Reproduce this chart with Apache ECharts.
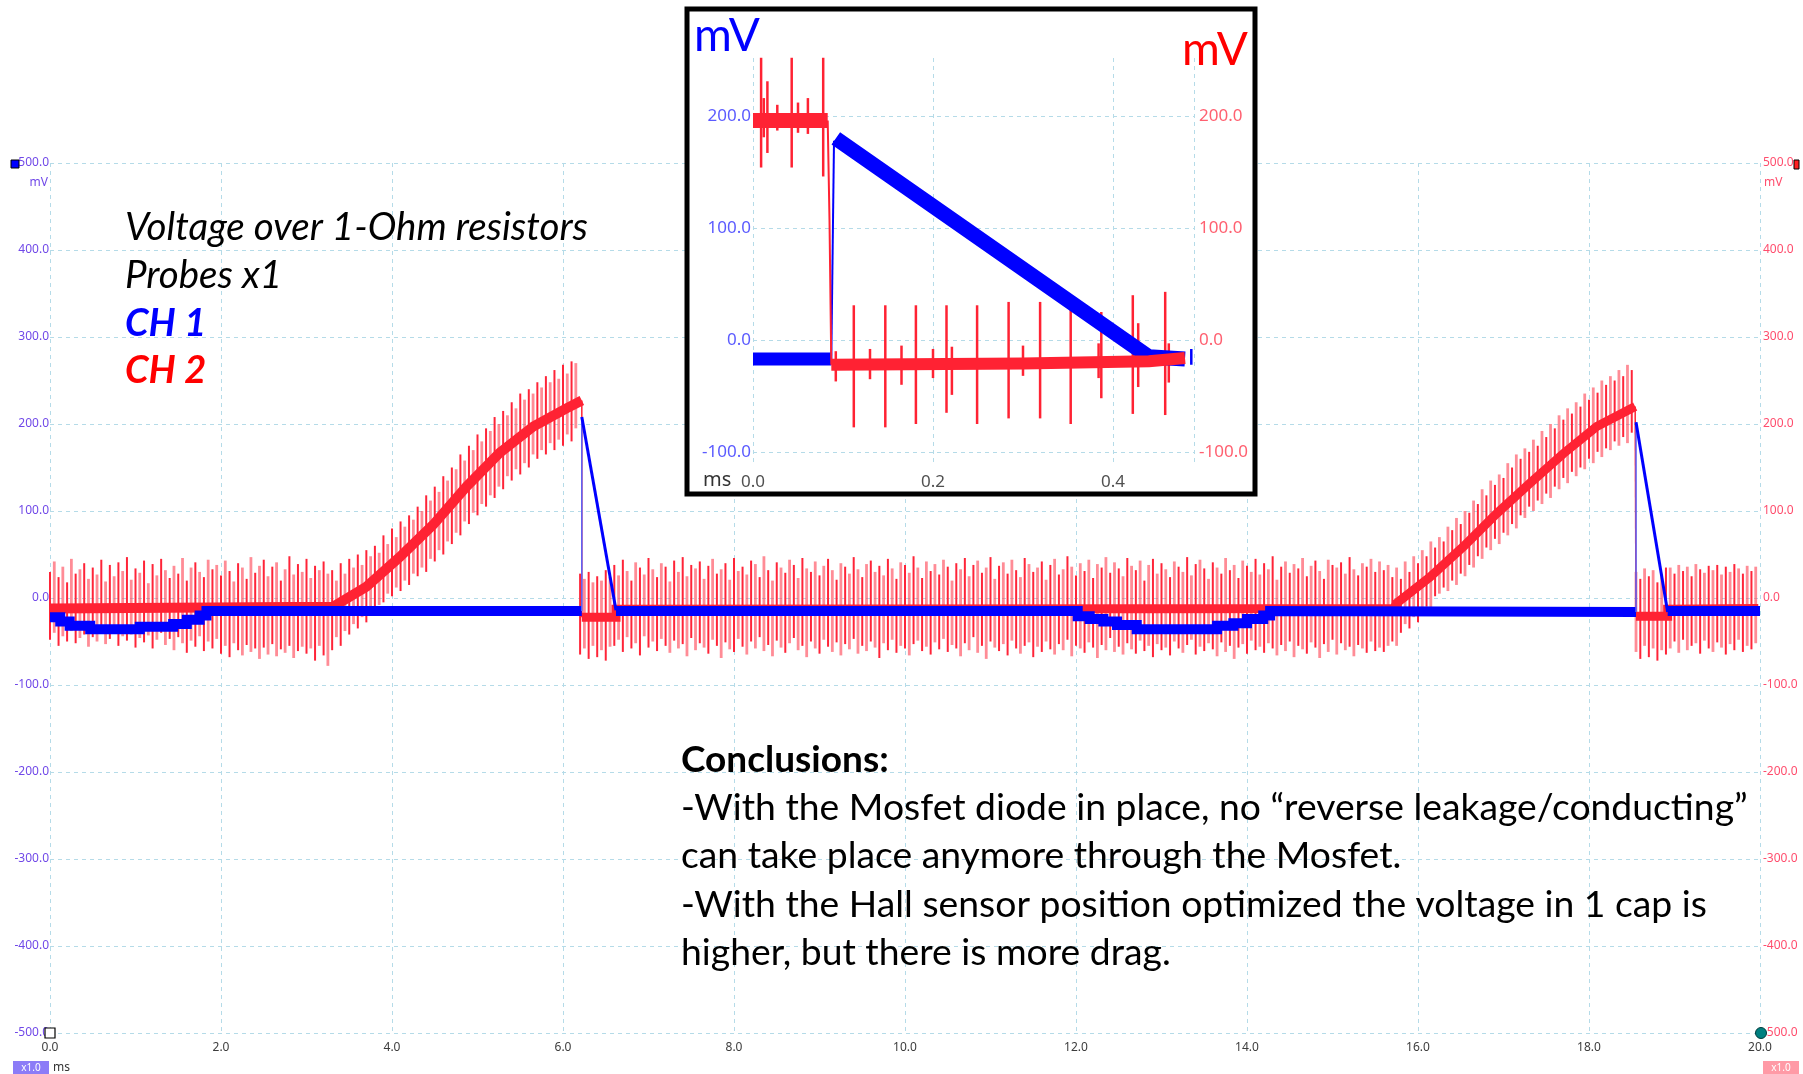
<!DOCTYPE html>
<html>
<head>
<meta charset="utf-8">
<title>Voltage over 1-Ohm resistors</title>
<script src="https://cdn.jsdelivr.net/npm/echarts@6/dist/echarts.min.js"></script>
<style>
  html, body { margin: 0; padding: 0; background: #ffffff; }
  #chart { width: 1803px; height: 1074px; }
</style>
</head>
<body>
<div id="chart"></div>
<script>
// ---- main scope trace, CH1 (blue), [ms, mV] ----
const CH1_BAND_1 = [[0, -22], [0.12, -22], [0.12, -27], [0.23, -27], [0.23, -32], [0.47, -32], [0.47, -36],
  [1.05, -36], [1.05, -33], [1.44, -33], [1.44, -30], [1.6, -30], [1.6, -25], [1.75, -25], [1.75, -20],
  [1.83, -20], [1.83, -15], [6.22, -15]];
const CH1_JUMP_1 = [[6.22, -15], [6.22, 208]];
const CH1_DECAY_1 = [[6.22, 208], [6.62, -14]];
const CH1_BAND_2 = [[6.62, -15], [12.02, -15], [12.02, -21], [12.16, -21], [12.16, -24], [12.32, -24],
  [12.32, -27], [12.48, -27], [12.48, -31], [12.71, -31], [12.71, -36], [13.65, -36], [13.65, -32],
  [13.84, -32], [13.84, -29], [14.0, -29], [14.0, -24], [14.19, -24], [14.19, -20], [14.27, -20],
  [14.27, -15], [18.55, -16]];
const CH1_JUMP_2 = [[18.55, -16], [18.55, 202]];
const CH1_DECAY_2 = [[18.55, 202], [18.92, -16]];
const CH1_BAND_3 = [[18.92, -15], [20, -15]];

// ---- main scope trace, CH2 (red), [ms, mV] ----
const CH2_BAND_1 = [[0, -12], [3.31, -10], [3.7, 13], [4.09, 47], [4.48, 84], [4.87, 128], [5.26, 167],
  [5.65, 197], [6.04, 218], [6.22, 227]];
const CH2_DROP_1 = [[6.22, 227], [6.22, -22]];
const CH2_BAND_2 = [[6.22, -22], [6.62, -22], [6.62, -13], [15.72, -12], [15.75, -6], [16.14, 24],
  [16.53, 59], [16.92, 97], [17.31, 132], [17.7, 166], [18.09, 197], [18.54, 220]];
const CH2_DROP_2 = [[18.54, 220], [18.55, -21]];
const CH2_BAND_3 = [[18.55, -21], [18.92, -21], [18.92, -13], [19.98, -12]];

// CH2 switching spikes: [top mV, bottom mV], one every SPIKE_STEP ms from each start
const SPIKE_STEP = 0.05;
const SPIKE_STARTS = [0, 3.3, 6.2, 6.6, 15.75, 18.55, 18.95];
const SPIKES_A = [
  [30, -48], [42, -40], [24, -55], [36, -44], [18, -50], [45, -38], [28, -52], [33, -46], [40, -42], [22, -56],
  [35, -45], [27, -50], [44, -41], [19, -53], [38, -47], [25, -39], [41, -55], [31, -44], [47, -49], [21, -42],
  [34, -57], [29, -46], [43, -51], [17, -43], [39, -58], [26, -48], [45, -40], [32, -54], [23, -47], [37, -60],
  [28, -45], [46, -52], [20, -63], [35, -49], [41, -56], [30, -44], [24, -61], [44, -50], [33, -58], [38, -47],
  [26, -64], [43, -55], [31, -68], [19, -52], [40, -60], [35, -66], [22, -54], [47, -62], [29, -58], [37, -70],
  [44, -57], [25, -65], [36, -53], [41, -67], [20, -59], [33, -63], [48, -55], [27, -69], [39, -61], [30, -56],
  [45, -64], [23, -58], [37, -72], [32, -55], [42, -66], [28, -78]
];
const SPIKES_B = [
  [32, -60], [20, -45], [40, -55], [28, -38], [45, -42], [35, -30], [50, -35], [38, -22], [55, -28], [48, -18],
  [60, -12], [52, -8], [72, -5], [62, 5], [80, 2], [70, 12], [88, 8], [82, 20], [95, 15], [90, 28],
  [105, 25], [100, 35], [118, 30], [112, 45], [128, 42], [122, 55], [140, 50], [135, 65], [150, 62], [148, 75],
  [165, 72], [158, 88], [175, 85], [170, 98], [188, 95], [180, 108], [195, 105], [192, 118], [208, 115], [200, 128],
  [215, 125], [210, 140], [225, 135], [218, 148], [235, 142], [228, 155], [240, 150], [235, 165], [248, 160], [242, 170],
  [255, 165], [248, 178], [262, 170], [252, 182], [268, 175], [258, 188], [272, 180], [270, 195]
];
const SPIKES_C = [[28, -65], [22, -58], [30, -70], [18, -55], [25, -68], [20, -60], [32, -72], [24, -56]];
const SPIKES_D = [
  [38, -55], [26, -48], [44, -62], [31, -45], [20, -58], [41, -52], [35, -66], [27, -44], [46, -57], [33, -50],
  [24, -61], [40, -47], [36, -55], [19, -63], [43, -49], [30, -58], [47, -53], [25, -67], [38, -46], [34, -60],
  [42, -52], [22, -57], [37, -64], [45, -48], [28, -55], [33, -69], [40, -51], [21, -59], [46, -62], [31, -47],
  [36, -56], [27, -65], [43, -50], [39, -58], [24, -45], [48, -61], [32, -54], [20, -67], [41, -49], [35, -57],
  [29, -63], [44, -52], [38, -46], [23, -60], [46, -55], [34, -68], [30, -50], [42, -58], [26, -64], [37, -48],
  [45, -56], [32, -62], [21, -51], [40, -66], [36, -53], [28, -59], [47, -47], [33, -64], [24, -55], [39, -61],
  [43, -50], [30, -57], [37, -69], [26, -52], [45, -60], [34, -48], [22, -63], [41, -55], [38, -58], [29, -66],
  [48, -53], [35, -49], [23, -61], [42, -56], [31, -65], [39, -51], [27, -59], [44, -47], [36, -62], [20, -54],
  [40, -58], [33, -67], [46, -52], [25, -60], [38, -45], [43, -63], [29, -55], [35, -70], [47, -50], [22, -57],
  [37, -61], [41, -53], [28, -66], [44, -49], [32, -58], [24, -64], [46, -55], [39, -51], [30, -68], [35, -56],
  [42, -62], [21, -50], [38, -59], [45, -65], [27, -53], [33, -60], [48, -48], [36, -67], [26, -55], [40, -58],
  [31, -63], [44, -51], [23, -57], [39, -69], [35, -54], [47, -60], [29, -46], [41, -62], [34, -56], [25, -65],
  [46, -52], [37, -59], [32, -64], [43, -49], [20, -61], [38, -55], [45, -68], [28, -53], [40, -60], [33, -57],
  [24, -66], [42, -50], [36, -58], [30, -63], [47, -54], [26, -48], [39, -65], [44, -56], [34, -61], [22, -52],
  [41, -59], [35, -67], [28, -51], [46, -62], [32, -55], [38, -70], [23, -57], [43, -53], [37, -64], [30, -49],
  [45, -60], [27, -56], [40, -63], [33, -52], [48, -58], [21, -66], [36, -54], [42, -61], [29, -50], [39, -68],
  [34, -55], [46, -59], [25, -64], [37, -51], [43, -57], [31, -69], [22, -53], [44, -62], [38, -48], [35, -65],
  [41, -52], [28, -60], [47, -56], [33, -67], [26, -54], [40, -58], [36, -63], [45, -50], [30, -61], [42, -57],
  [32, -62], [38, -55], [24, -50]
];
const SPIKES_E = [
  [35, -55], [22, -40], [42, -30], [30, -35], [48, -22], [40, -28], [55, -15], [48, -10], [65, -18], [58, 2],
  [70, 5], [65, 12], [82, 8], [78, 20], [92, 15], [85, 28], [100, 25], [98, 38], [112, 35], [108, 48],
  [125, 45], [118, 58], [135, 55], [130, 68], [142, 62], [138, 75], [155, 72], [150, 85], [165, 80], [160, 95],
  [172, 92], [168, 105], [182, 100], [175, 112], [192, 108], [185, 120], [200, 115], [195, 128], [210, 125], [205, 138],
  [218, 132], [212, 145], [225, 140], [220, 150], [235, 148], [228, 160], [242, 155], [236, 168], [250, 162], [245, 172],
  [255, 170], [250, 180], [262, 175], [255, 185], [268, 178], [262, 190]
];
const SPIKES_F = [[30, -62], [22, -70], [34, -55], [25, -68], [32, -58], [18, -72], [28, -60], [35, -65]];
const SPIKES_G = [
  [35, -58], [28, -50], [38, -63], [31, -48], [36, -60], [25, -55], [39, -52], [33, -64], [29, -49], [37, -58],
  [32, -62], [38, -51], [27, -57], [36, -65], [30, -53], [39, -60], [34, -48], [28, -62], [37, -55], [31, -59],
  [36, -52]
];

// ---- zoomed inset, [ms, mV] ----
const INSET_CH1_BAND = [[0, -17], [0.087, -17]];
const INSET_CH1_JUMP = [[0.087, -17], [0.09, 178]];
const INSET_CH1_RAMP = [[0.092, 180], [0.44, -15], [0.48, -17]];
const INSET_CH1_TICK = [[0.487, -8], [0.487, -22]];
const INSET_CH2_BAND_1 = [[0, 196], [0.083, 196]];
const INSET_CH2_DROP = [[0.083, 196], [0.085, 107], [0.087, -22]];
const INSET_CH2_BAND_2 = [[0.087, -22], [0.3, -21], [0.44, -19], [0.48, -16]];
// [ms, top mV, bottom mV]
const INSET_CH2_SPIKES = [
  [0.009, 252, 154], [0.012, 216, 181], [0.016, 231, 167], [0.027, 210, 187], [0.043, 252, 154],
  [0.05, 212, 185], [0.061, 216, 184], [0.078, 252, 146], [0.092, -10, -37], [0.112, 31, -78],
  [0.13, -8, -35], [0.147, 31, -78], [0.165, -5, -40], [0.181, 31, -75], [0.2, -8, -34],
  [0.215, 31, -65], [0.221, -6, -49], [0.249, 31, -75], [0.284, 34, -70], [0.3, -5, -32],
  [0.319, 34, -70], [0.353, 27, -75], [0.384, -3, -34], [0.387, 25, -52], [0.422, 40, -66],
  [0.428, 15, -42], [0.458, 43, -67], [0.462, -3, -38]
];

const TEXT_NOTES = ["Voltage over 1-Ohm resistors", "Probes x1"];
const TEXT_CHANNELS = ["CH 1", "CH 2"];
const TEXT_CONCLUSIONS = [
  "-With the Mosfet diode in place, no \u201creverse leakage/conducting\u201d",
  "can take place anymore through the Mosfet.",
  "-With the Hall sensor position optimized the voltage in 1 cap is",
  "higher, but there is more drag."
];

const BLUE = "#0000ff";
const RED = "#ff2233";
const GRID_LINE = "#b5dbe8";
const LABEL_FONT = "'Noto Sans', sans-serif";
const TEXT_FONT = "Lato, 'Open Sans', sans-serif";

function spikeRows(start, pairs) {
  return pairs.map((p, i) => [+(start + i * SPIKE_STEP).toFixed(3), p[0], p[1]]);
}

function spikeRenderer(strong, light, strongWidth, lightWidth) {
  return function (params, api) {
    const top = api.coord([api.value(0), api.value(1)]);
    const bottom = api.coord([api.value(0), api.value(2)]);
    const isStrong = params.dataIndex % 2 === 0;
    return {
      type: "line",
      shape: { x1: top[0], y1: top[1], x2: bottom[0], y2: bottom[1] },
      style: { stroke: isStrong ? strong : light, lineWidth: isStrong ? strongWidth : lightWidth }
    };
  };
}

function trace(data, color, width, opts) {
  return Object.assign({
    type: "line",
    data,
    symbol: "none",
    silent: true,
    lineStyle: { color, width, cap: "butt", join: "miter" }
  }, opts || {});
}

function fixed1(v) {
  return v.toFixed(1);
}

const mainSpikes = [SPIKES_A, SPIKES_B, SPIKES_C, SPIKES_D, SPIKES_E, SPIKES_F, SPIKES_G]
  .map((rows, i) => spikeRows(SPIKE_STARTS[i], rows))
  .flat();

const dashed = { color: GRID_LINE, width: 1, type: [4, 4] };
const inset = { xAxisIndex: 1, yAxisIndex: 2, z: 6, clip: false };

const option = {
  animation: false,
  backgroundColor: "#ffffff",
  grid: [
    { left: 50, top: 163, width: 1710, height: 870 },
    { left: 753, top: 116, width: 441, height: 336 },
    { left: 753, top: 58, width: 441, height: 408 }
  ],
  xAxis: [
    {
      type: "value", gridIndex: 0, min: 0, max: 20, interval: 2,
      axisLine: { show: false }, axisTick: { show: false },
      axisLabel: { formatter: fixed1, color: "#3c3c3c", fontSize: 12, fontFamily: LABEL_FONT, margin: 9 },
      splitLine: { lineStyle: dashed }
    },
    { type: "value", gridIndex: 1, min: 0, max: 0.49, show: false },
    {
      type: "value", gridIndex: 2, min: 0, max: 0.49, interval: 0.2, z: 5,
      axisLine: { show: false }, axisTick: { show: false },
      axisLabel: {
        formatter: v => (Math.abs(v * 5 - Math.round(v * 5)) < 1e-6 ? v.toFixed(1) : ""),
        color: "#505050", fontSize: 17, fontFamily: LABEL_FONT, margin: 8
      },
      splitLine: { lineStyle: dashed }
    }
  ],
  yAxis: [
    {
      type: "value", gridIndex: 0, min: -500, max: 500, interval: 100, position: "left",
      axisLine: { show: false }, axisTick: { show: false },
      axisLabel: { formatter: fixed1, color: "#7048e8", fontSize: 12, fontFamily: LABEL_FONT, margin: 1 },
      splitLine: { lineStyle: dashed }
    },
    {
      type: "value", gridIndex: 0, min: -500, max: 500, interval: 100, position: "right",
      axisLine: { show: false }, axisTick: { show: false },
      axisLabel: { formatter: fixed1, color: "#ff4d6d", fontSize: 12, fontFamily: LABEL_FONT, margin: 3 },
      splitLine: { show: false }
    },
    {
      type: "value", gridIndex: 1, min: -100, max: 200, interval: 100, position: "left", z: 5,
      axisLine: { show: false }, axisTick: { show: false },
      axisLabel: { formatter: fixed1, color: "#5b5bff", fontSize: 17, fontFamily: LABEL_FONT, margin: 2 },
      splitLine: { lineStyle: dashed }
    },
    {
      type: "value", gridIndex: 1, min: -100, max: 200, interval: 100, position: "right", z: 5,
      axisLine: { show: false }, axisTick: { show: false },
      axisLabel: { formatter: fixed1, color: "#ff6070", fontSize: 17, fontFamily: LABEL_FONT, margin: 5 },
      splitLine: { show: false }
    },
    { type: "value", gridIndex: 2, min: 0, max: 1, show: false }
  ],
  series: [
    {
      type: "custom",
      silent: true,
      data: mainSpikes,
      encode: { x: 0, y: [1, 2] },
      renderItem: spikeRenderer("#ff2438", "rgba(255, 70, 85, 0.62)", 2, 2.8)
    },
    trace(CH2_BAND_1, RED, 10),
    trace(CH2_DROP_1, RED, 1.5),
    trace(CH2_BAND_2, RED, 9),
    trace(CH2_DROP_2, RED, 1.5),
    trace(CH2_BAND_3, RED, 9),
    trace(CH1_BAND_1, BLUE, 10),
    trace(CH1_JUMP_1, "#5566ff", 1.5),
    trace(CH1_DECAY_1, BLUE, 3),
    trace(CH1_BAND_2, BLUE, 10),
    trace(CH1_JUMP_2, "#5566ff", 1.5),
    trace(CH1_DECAY_2, BLUE, 3),
    trace(CH1_BAND_3, BLUE, 10),

    trace(INSET_CH1_BAND, BLUE, 13, inset),
    trace(INSET_CH1_JUMP, BLUE, 2, inset),
    trace(INSET_CH1_RAMP, BLUE, 15, inset),
    trace(INSET_CH1_TICK, BLUE, 2.5, inset),
    Object.assign({
      type: "custom",
      silent: true,
      data: INSET_CH2_SPIKES,
      encode: { x: 0, y: [1, 2] },
      renderItem: spikeRenderer(RED, RED, 2.5, 2.5)
    }, inset),
    trace(INSET_CH2_BAND_1, RED, 15, inset),
    trace(INSET_CH2_DROP, RED, 2, inset),
    trace(INSET_CH2_BAND_2, RED, 12, inset)
  ],
  graphic: [
    // inset panel
    { type: "rect", z: 4, silent: true, shape: { x: 687, y: 9, width: 568, height: 485 }, style: { fill: "#ffffff" } },
    { type: "rect", z: 8, silent: true, shape: { x: 687, y: 9, width: 568, height: 485 }, style: { fill: "none", stroke: "#000000", lineWidth: 5 } },
    { type: "text", z: 9, silent: true, x: 694, y: 36, style: { text: "mV", fill: BLUE, font: "46px " + TEXT_FONT, verticalAlign: "middle" } },
    { type: "text", z: 9, silent: true, x: 1248, y: 50, style: { text: "mV", fill: "#ff0000", font: "46px " + TEXT_FONT, align: "right", verticalAlign: "middle" } },
    { type: "text", z: 9, silent: true, x: 703, y: 480, style: { text: "ms", fill: "#333333", font: "20px " + LABEL_FONT, verticalAlign: "middle" } },

    // axis units and markers
    { type: "text", silent: true, x: 48, y: 183, style: { text: "mV", fill: "#7048e8", font: "12px " + LABEL_FONT, align: "right", verticalAlign: "middle" } },
    { type: "text", silent: true, x: 1764, y: 183, style: { text: "mV", fill: "#ff4d6d", font: "12px " + LABEL_FONT, verticalAlign: "middle" } },
    { type: "rect", z: 3, silent: true, shape: { x: 11, y: 160, width: 8, height: 8 }, style: { fill: "#0000ff", stroke: "#000000", lineWidth: 1 } },
    { type: "rect", z: 3, silent: true, shape: { x: 1794, y: 160, width: 5, height: 9 }, style: { fill: "#ff2020", stroke: "#000000", lineWidth: 1 } },
    { type: "rect", z: 3, silent: true, shape: { x: 45, y: 1028, width: 10, height: 10 }, style: { fill: "#ffffff", stroke: "#000000", lineWidth: 1.2 } },
    { type: "circle", z: 3, silent: true, shape: { cx: 1761, cy: 1033, r: 5.5 }, style: { fill: "#008080", stroke: "#003c3c", lineWidth: 1 } },
    { type: "rect", silent: true, shape: { x: 13, y: 1061, width: 36, height: 13 }, style: { fill: "#8c7cf7" } },
    { type: "text", silent: true, x: 31, y: 1068, style: { text: "x1.0", fill: "#ffffff", font: "10px " + LABEL_FONT, align: "center", verticalAlign: "middle" } },
    { type: "text", silent: true, x: 53, y: 1068, style: { text: "ms", fill: "#333333", font: "12px " + LABEL_FONT, verticalAlign: "middle" } },
    { type: "rect", silent: true, shape: { x: 1763, y: 1061, width: 36, height: 13 }, style: { fill: "#ff9aa6" } },
    { type: "text", silent: true, x: 1781, y: 1068, style: { text: "x1.0", fill: "#ffffff", font: "10px " + LABEL_FONT, align: "center", verticalAlign: "middle" } },

    // annotations
    { type: "text", z: 10, silent: true, x: 125, y: 228, style: { text: TEXT_NOTES[0], fill: "#000000", font: "italic 38.5px " + TEXT_FONT, verticalAlign: "middle" } },
    { type: "text", z: 10, silent: true, x: 125, y: 276, style: { text: TEXT_NOTES[1], fill: "#000000", font: "italic 38.5px " + TEXT_FONT, verticalAlign: "middle" } },
    { type: "text", z: 10, silent: true, x: 125, y: 324, style: { text: TEXT_CHANNELS[0], fill: BLUE, font: "italic bold 38px " + TEXT_FONT, verticalAlign: "middle" } },
    { type: "text", z: 10, silent: true, x: 125, y: 371, style: { text: TEXT_CHANNELS[1], fill: "#ff0000", font: "italic bold 38px " + TEXT_FONT, verticalAlign: "middle" } },
    { type: "text", z: 10, silent: true, x: 681, y: 760, style: { text: "Conclusions:", fill: "#000000", font: "bold 37px " + TEXT_FONT, verticalAlign: "middle" } }
  ].concat(TEXT_CONCLUSIONS.map((line, i) => ({
    type: "text", z: 10, silent: true, x: 681, y: 808 + i * 48.3,
    style: { text: line, fill: "#000000", font: "37.3px " + TEXT_FONT, verticalAlign: "middle" }
  })))
};

const chart = echarts.init(document.getElementById("chart"));
chart.setOption(option);
</script>
</body>
</html>
